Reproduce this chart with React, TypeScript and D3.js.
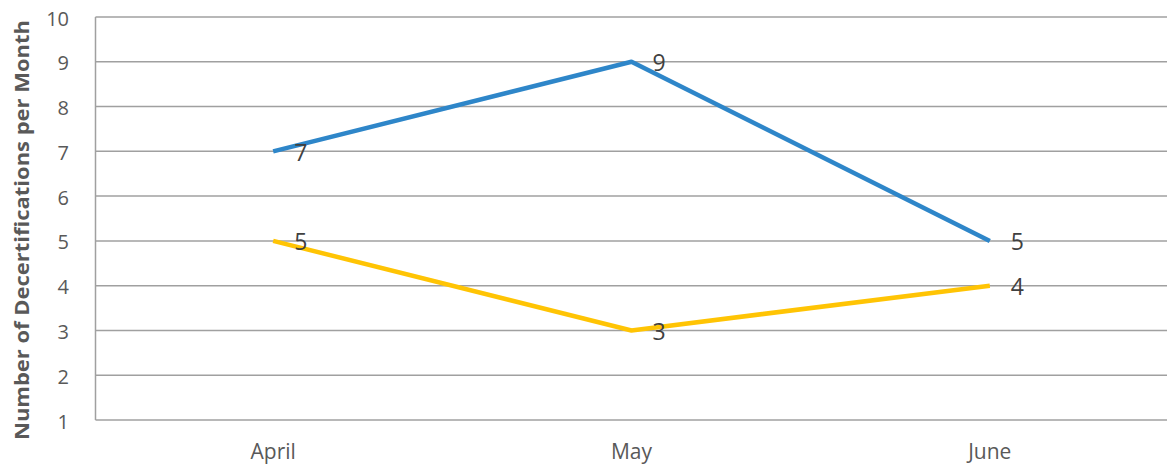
import React from "react";
import * as d3 from "d3";

const months = ["April", "May", "June"];
const seriesA = [7, 9, 5];
const seriesB = [5, 3, 4];
const yTicks = [1, 2, 3, 4, 5, 6, 7, 8, 9, 10];
const yTitle = "Number of Decertifications per Month";

const W = 1167;
const H = 467;

export default function App() {
  const x = d3.scaleBand<string>().domain(months).range([94, 1169]);
  const y = d3.scaleLinear().domain([1, 10]).range([420, 17]);
  const cx = (m: string) => (x(m) as number) + x.bandwidth() / 2;
  const line = d3
    .line<number>()
    .x((_, i) => cx(months[i]))
    .y((d) => y(d));
  const font = "'Open Sans', sans-serif";
  const series = [
    { values: seriesA, color: "#2E86C9" },
    { values: seriesB, color: "#FFC404" },
  ];
  return (
    <svg width={W} height={H} style={{ position: "absolute", left: 0, top: 0 }}>
      <rect width={W} height={H} fill="#fff" />
      {yTicks.map((t) => (
        <g key={t}>
          <line x1={95.5} x2={W} y1={y(t)} y2={y(t)} stroke="#A0A0A0" strokeWidth={1.5} />
          <text
            x={69}
            y={y(t) + 1.5}
            dy="0.35em"
            textAnchor="end"
            fontFamily={font}
            fontSize={20}
            fill="#595959"
          >
            {t}
          </text>
        </g>
      ))}
      <line x1={95.5} x2={95.5} y1={y(10)} y2={y(1)} stroke="#A0A0A0" strokeWidth={1.5} />
      {months.map((m) => (
        <text
          key={m}
          x={cx(m)}
          y={459}
          textAnchor="middle"
          fontFamily={font}
          fontSize={21}
          fill="#595959"
        >
          {m}
        </text>
      ))}
      <text
        transform={`translate(22,${230}) rotate(-90)`}
        textAnchor="middle"
        dy="0.35em"
        fontFamily={font}
        fontSize={20}
        fontWeight="bold"
        fill="#595959"
        textLength={420}
        lengthAdjust="spacingAndGlyphs"
      >
        {yTitle}
      </text>
      {series.map((s, si) => (
        <g key={si}>
          <path d={line(s.values) || ""} fill="none" stroke={s.color} strokeWidth={4.5} strokeLinejoin="round" />
          {s.values.map((v, i) => (
            <text
              key={i}
              x={cx(months[i]) + 21}
              y={y(v) + 1.5}
              dy="0.35em"
              fontFamily={font}
              fontSize={23}
              fill="#404040"
            >
              {v}
            </text>
          ))}
        </g>
      ))}
    </svg>
  );
}
